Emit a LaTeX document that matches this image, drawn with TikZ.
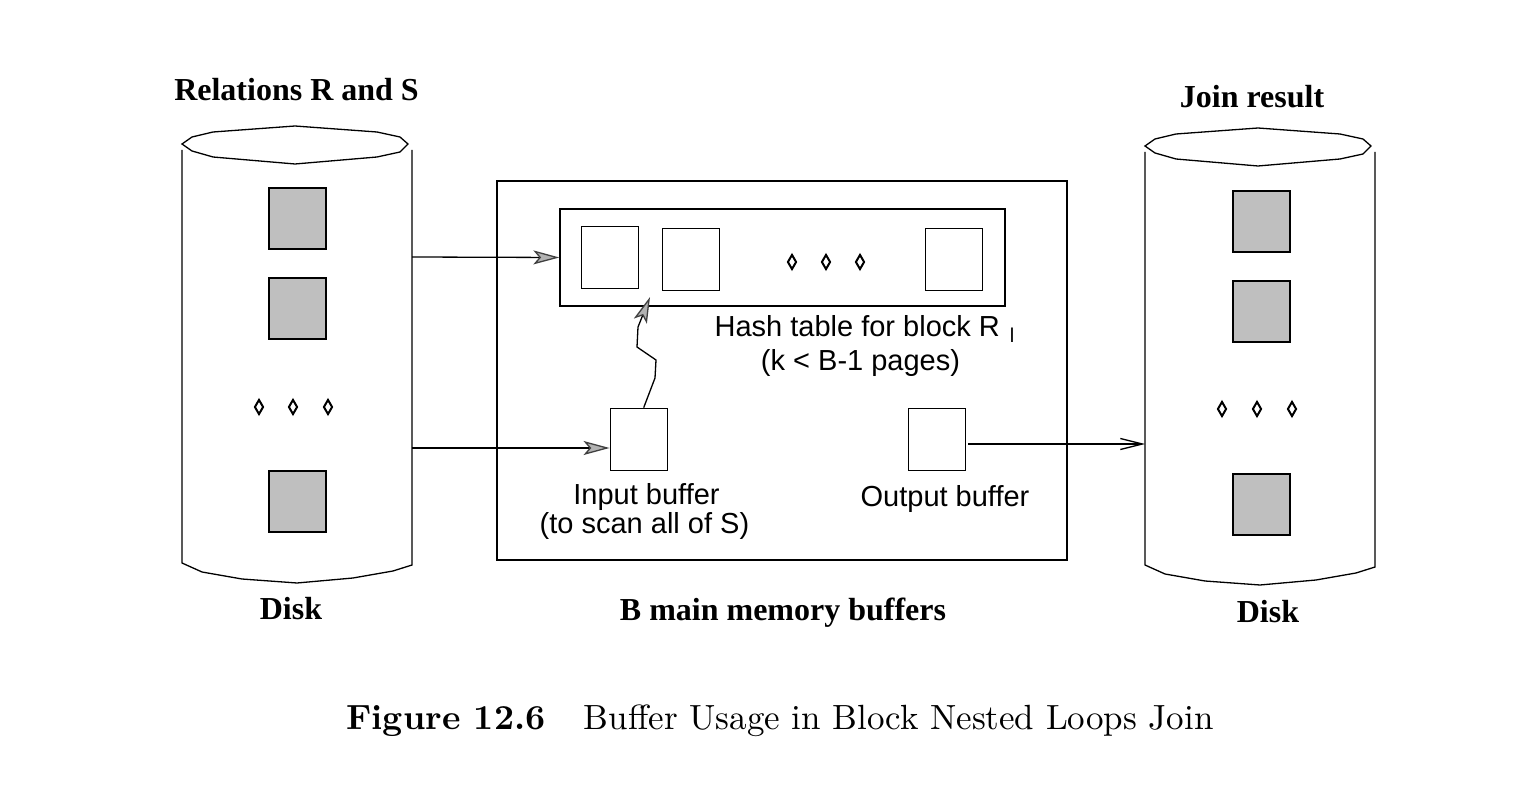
\documentclass[tikz,border=0pt]{standalone}
\usepackage{fontspec}
\newfontfamily\timesfont{Liberation Serif}
\newfontfamily\arialfont{Liberation Sans}
\newfontfamily\capfont{lmroman10-regular.otf}[BoldFont=lmroman10-bold.otf]
\usetikzlibrary{arrows.meta,shapes.geometric}
\tikzset{page/.style={draw, fill=black!25, minimum width=28.5pt, minimum height=30.5pt, inner sep=0pt},
    buffer/.style={draw, minimum width=28.5pt, minimum height=31pt, inner sep=0pt},
    dots/.style={draw, diamond, line width=1pt, minimum width=4.5pt, minimum height=7.5pt, inner sep=0pt},
    title/.style={font=\timesfont\bfseries\fontsize{16}{19}\selectfont, anchor=base},
    note/.style={font=\arialfont\fontsize{14.5}{17}\selectfont, anchor=base},
    feed/.style={-{Stealth[length=13pt,width=7pt,inset=3pt,fill=black!30,color=black!75]}},
    emit/.style={-{Straight Barb[length=11pt,width=5.5pt]}},
    disk/.pic={
        \draw (0,18) -- (10,11) -- (31,6) -- (113,0) -- (195,6) -- (218,11) -- (226,18)
            -- (218,26) -- (195,31) -- (113,38) -- (31,31) -- (10,25) -- cycle;
        \draw (0,24) -- (0,437) -- (20,446) -- (60,453) -- (115,457) -- (171,452)
            -- (211,445) -- (230,439) -- (230,24);
    },
    }

\begin{document}
\begin{tikzpicture}[x=0.5pt, y=-0.5pt, line width=0.65pt]
\useasboundingbox (0,0) rectangle (1522,796);

% disks
\pic at (182,126) {disk};
\pic at (1145,128) {disk};
\node[page] (r1) at (297.5,218.5) {};
\node[page] (r2) at (297.5,308.5) {};
\node[page] (r3) at (297.5,501.5) {};
\foreach \x in {259,293,328} \node[dots] at (\x,407) {};
\node[page] (j1) at (1261.5,221.5) {};
\node[page] (j2) at (1261.5,311.5) {};
\node[page] (j3) at (1261.5,504.5) {};
\foreach \x in {1222,1257,1292} \node[dots] at (\x,409) {};
\coordinate (rel1) at (412,257);
\coordinate (rel2) at (412,448);
\coordinate (res) at (1145,444);

% main memory
\node[draw, minimum width=285pt, minimum height=189.5pt, inner sep=0pt] (mem) at (782,370.5) {};
\node[draw, minimum width=222.5pt, minimum height=48.5pt, inner sep=0pt] (hash) at (782.5,257.5) {};
\node[buffer] (h1) at (610.3,257.3) {};
\node[buffer] (h2) at (690.7,259.3) {};
\node[buffer] (hk) at (953.7,259.3) {};
\foreach \x in {792,826,860} \node[dots] at (\x,262) {};
\node[buffer] (inbuf) at (638.7,439.3) {};
\node[buffer] (outbuf) at (937.3,439.3) {};

% arrows
\draw[feed] (rel1) -- (hash.west);
\draw[feed] (rel2) -- (rel2 -| inbuf.west);
\draw[feed] ([xshift=2.5pt]inbuf.north) -- (655,378) -- (656,360) -- (637,347) -- (638,327) -- (650,297);
\draw[emit] ([xshift=1pt]outbuf.east |- res) -- (res);

% labels
\node[title] (lrel) at (296.5,101) {Relations R and S};
\node[title] (ljoin) at (1252,108) {Join result};
\node[title] (ldisk1) at (291,619) {Disk};
\node[title] (ldisk2) at (1268,623) {Disk};
\node[title] (lmem) at (783,621) {B main memory buffers};
\node[note, anchor=base west, inner sep=0pt] (lhash) at (714,337) {Hash table for block R\hspace{5pt}\raisebox{-3pt}{\fontsize{10}{10}\selectfont l}};
\node[note] (lpages) at (860.5,371) {(k < B-1 pages)};
\node[note] (lin1) at (646.5,505) {Input buffer};
\node[note] (lin2) at (644.5,534) {(to scan all of S)};
\node[note] (lout) at (945,507) {Output buffer};
\node[anchor=base, font=\capfont\fontsize{17.5}{20}\selectfont] (caption) at (780,729)
    {\textbf{Figure 12.6}\hspace{1.1em}Buffer Usage in Block Nested Loops Join};
\end{tikzpicture}
\end{document}
